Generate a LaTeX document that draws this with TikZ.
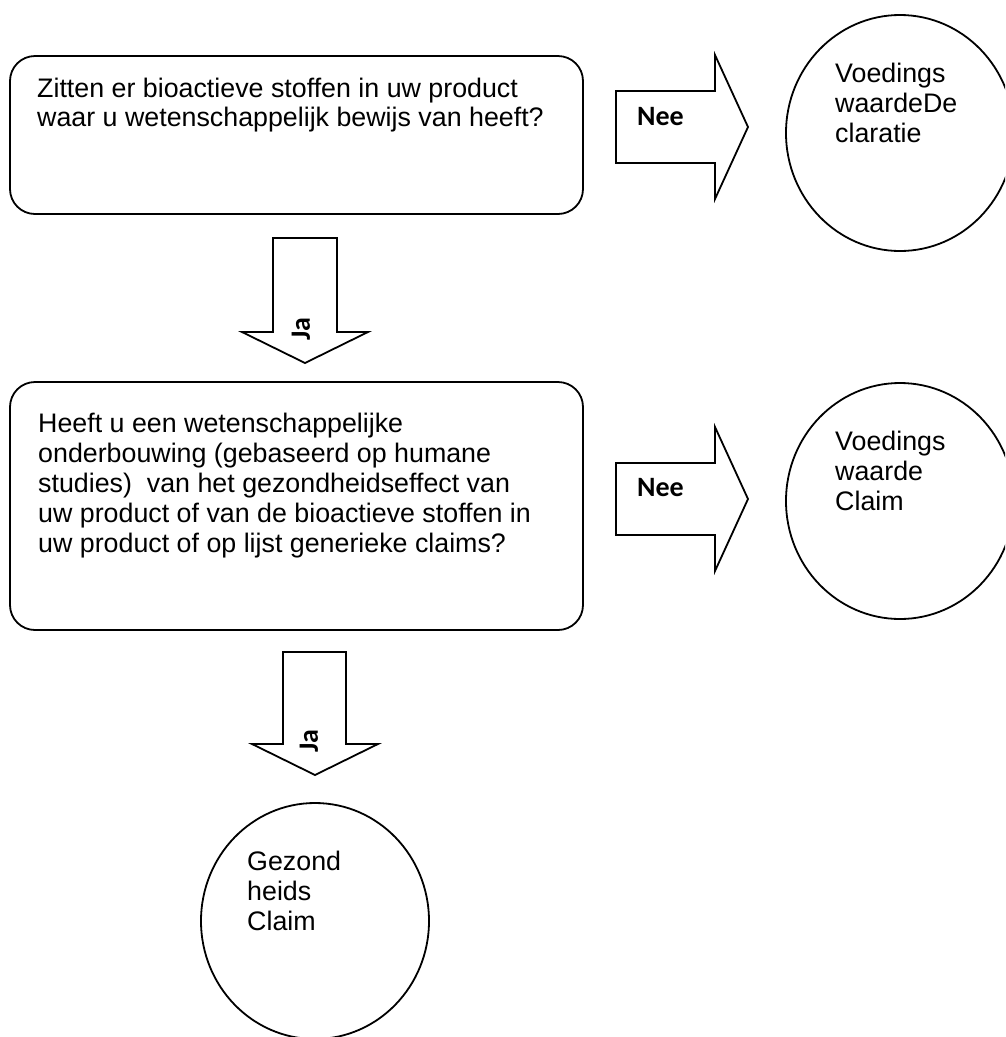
\documentclass[tikz,border=0pt]{standalone}
\usepackage{fontspec}
\setmainfont{Liberation Sans}
\newfontfamily\calibri{Carlito}
\usetikzlibrary{shapes.geometric}
\begin{document}
\begin{tikzpicture}[x=1pt,y=-1pt,
  qbox/.style={draw, line width=1.8pt, rounded corners=25pt, minimum width=573pt, inner sep=0pt},
  endcirc/.style={draw, ellipse, line width=1.8pt, minimum width=228pt, minimum height=236pt, inner sep=0pt},
  blockarrow/.style={draw, line width=1.8pt, line join=miter, fill=white},
  txt/.style={anchor=north west, inner sep=0pt, align=left, font=\fontsize{26.8}{30}\selectfont},
  lbl/.style={inner sep=0pt, font=\calibri\bfseries\fontsize{28}{30}\selectfont}
]
\useasboundingbox (0,0) rectangle (1005,1037);
\clip (0,0) rectangle (1005,1037);
% question boxes
\node[qbox, minimum height=158pt] (q1) at (296.5,135) {};
\node[qbox, minimum height=248pt] (q2) at (296.5,506) {};
\node[txt, font=\fontsize{26.8}{29}\selectfont] (t1) at (37,77) {\strut Zitten er bioactieve stoffen in uw product\\waar u wetenschappelijk bewijs van heeft?};
\node[txt] (t2) at (38,411) {\strut Heeft u een wetenschappelijke\\onderbouwing (gebaseerd op humane\\studies)\ \ van het gezondheidseffect van\\uw product of van de bioactieve stoffen in\\uw product of op lijst generieke claims?};
% end circles
\node[endcirc] (c1) at (900,133) {};
\node[endcirc] (c2) at (900,501) {};
\node[endcirc] (c3) at (315,921) {};
\node[txt] (ct1) at (835,61) {\strut Voedings\\waardeDe\\claratie};
\node[txt] (ct2) at (835,429) {\strut Voedings\\waarde\\Claim};
\node[txt] (ct3) at (247,849) {\strut Gezond\\heids\\Claim};
% block arrows
\draw[blockarrow] (616,91) -- (715,91) -- (715,55) -- (748,127) -- (715,199) -- (715,163) -- (616,163) -- cycle;
\draw[blockarrow] (616,463) -- (715,463) -- (715,427) -- (748,499) -- (715,571) -- (715,535) -- (616,535) -- cycle;
\draw[blockarrow] (273,238) -- (337,238) -- (337,332) -- (368,332) -- (305,363) -- (242,332) -- (273,332) -- cycle;
\draw[blockarrow] (283,652) -- (346,652) -- (346,744) -- (378,744) -- (315,775) -- (252,744) -- (283,744) -- cycle;
\node[lbl, anchor=west] (n1) at (637,117) {Nee};
\node[lbl, anchor=west] (n2) at (637,488) {Nee};
\node[lbl, rotate=90] (j1) at (301,329) {Ja};
\node[lbl, rotate=90] (j2) at (309,741) {Ja};
\end{tikzpicture}
\end{document}
